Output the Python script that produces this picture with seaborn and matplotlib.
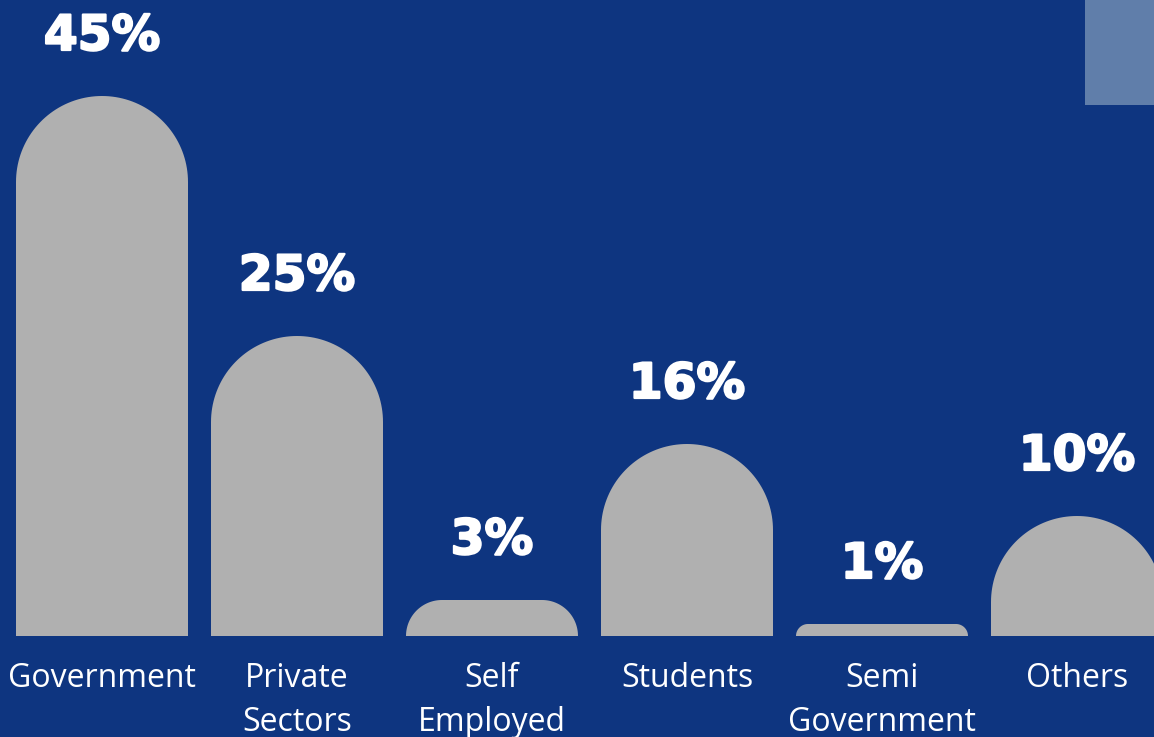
import numpy as np
import matplotlib
matplotlib.use("Agg")
import matplotlib.pyplot as plt
import matplotlib.patheffects as pe
from matplotlib.path import Path
from matplotlib.patches import PathPatch, Rectangle
import seaborn as sns

# Employment breakdown (percent)
categories = ["Government", "Private Sectors", "Self Employed", "Students", "Semi Government", "Others"]
tick_labels = ["Government", "Private\nSectors", "Self\nEmployed", "Students", "Semi\nGovernment", "Others"]
values = [45, 25, 3, 16, 1, 10]

BG = "#0E3580"
BAR = "#B0B0B0"
ACCENT = "#607EAA"

sns.set_theme(style="white")
plt.rcParams["font.family"] = ["Open Sans", "DejaVu Sans"]

W, H = 1154, 737
fig = plt.figure(figsize=(W / 100, H / 100), dpi=100, facecolor=BG)
base_px = 636
ax = fig.add_axes([0, (H - base_px) / H, 1, base_px / H])
ax.set_facecolor(BG)

sns.barplot(x=categories, y=values, color=BAR, width=0.882, saturation=1,
            ax=ax, edgecolor="none", linewidth=0)

spacing_px = 195.0
first_center_px = 102.0
px_per_pct = 12.0
ax.set_xlim(-first_center_px / spacing_px, (W - first_center_px) / spacing_px)
ax.set_ylim(0, base_px / px_per_pct)

ax.set_xticks(range(len(categories)))
ax.set_xticklabels(tick_labels, color="white", fontsize=23, linespacing=1.42)
ax.tick_params(axis="x", length=0, pad=19)
ax.set_yticks([])
ax.set_xlabel("")
ax.set_ylabel("")
for s in ax.spines.values():
    s.set_visible(False)


def rounded_top(x0, w, h, sx, sy, n=40):
    """Bar outline with rounded top corners, radius equal in pixel space."""
    r_px = min(w * sx / 2, h * sy)
    rx, ry = r_px / sx, r_px / sy
    pts = [(x0, 0), (x0, h - ry)]
    t = np.linspace(np.pi, np.pi / 2, n)
    cx, cy = x0 + rx, h - ry
    pts += list(zip(cx + rx * np.cos(t), cy + ry * np.sin(t)))
    t = np.linspace(np.pi / 2, 0, n)
    cx = x0 + w - rx
    pts += list(zip(cx + rx * np.cos(t), cy + ry * np.sin(t)))
    pts += [(x0 + w, 0), (x0, 0)]
    codes = [Path.MOVETO] + [Path.LINETO] * (len(pts) - 2) + [Path.CLOSEPOLY]
    return Path(pts, codes)


bars = list(ax.patches)
for bar, v in zip(bars, values):
    x0, w, h = bar.get_x(), bar.get_width(), bar.get_height()
    bar.set_visible(False)
    ax.add_patch(PathPatch(rounded_top(x0, w, h, spacing_px, px_per_pct),
                           facecolor=BAR, edgecolor="none", clip_on=True))
    ax.annotate(f"{v}%", xy=(x0 + w / 2, h), xytext=(0, 60),
                textcoords="offset pixels", ha="center", va="center",
                color="white", fontsize=35, fontweight="bold",
                family="DejaVu Sans",
                path_effects=[pe.withStroke(linewidth=1.6, foreground="white")])

# corner accent block
fig.patches.append(Rectangle((1085 / W, (H - 105) / H), (W - 1085) / W, 105 / H,
                             transform=fig.transFigure, facecolor=ACCENT,
                             edgecolor="none", zorder=0))

fig.savefig("out.png", dpi=100, facecolor=BG)
